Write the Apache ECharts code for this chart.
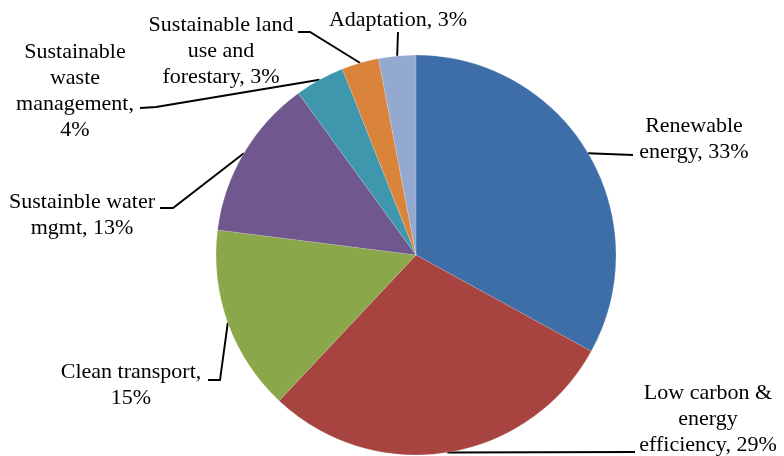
<!DOCTYPE html>
<html>
<head>
<meta charset="utf-8">
<title>Green bond use of proceeds</title>
<script src="https://cdn.jsdelivr.net/npm/echarts@6/dist/echarts.min.js"></script>
<style>
  html, body { margin: 0; padding: 0; background: #ffffff; }
  #chart { width: 784px; height: 456px; }
</style>
</head>
<body>
<div id="chart"></div>
<script>
// Categories (clockwise from 12 o'clock) and their shares in percent
const categories = [
  'Renewable energy',
  'Low carbon & energy efficiency',
  'Clean transport',
  'Sustainble water mgmt',
  'Sustainable waste management',
  'Sustainable land use and forestary',
  'Adaptation'
];
const shares = [33, 29, 15, 13, 4, 3, 3];

// Label text with its line breaks; {v} is replaced by the share
const labelTemplates = [
  'Renewable\nenergy, {v}%',
  'Low carbon &\nenergy\nefficiency, {v}%',
  'Clean transport,\n{v}%',
  'Sustainble water\nmgmt, {v}%',
  'Sustainable\nwaste\nmanagement,\n{v}%',
  'Sustainable land\nuse and\nforestary, {v}%',
  'Adaptation, {v}%'
];

const sliceColors = ['#3E6EA7', '#A8443F', '#8AA74A', '#70588F', '#3F97AE', '#DA843B', '#93A9D0'];

// Where each label block sits and the bend/end points of its leader line
const labelPlacement = [
  { x: 694, y: 139, bends: [[633, 155]] },
  { x: 708, y: 419, bends: [[635, 452]] },
  { x: 131, y: 385, bends: [[220, 380], [208, 380]] },
  { x: 82,  y: 215, bends: [[173, 208], [160, 208]] },
  { x: 75,  y: 91,  bends: [[156, 107], [140, 108]] },
  { x: 221, y: 51,  bends: [[310, 32], [298, 32]] },
  { x: 398, y: 20,  bends: [[398, 32]] }
];

const chart = echarts.init(document.getElementById('chart'), null, { renderer: 'canvas' });

const cx = 416, cy = 255, radius = 200;

chart.setOption({
  animation: false,
  backgroundColor: '#ffffff',
  series: [{
    type: 'pie',
    center: [cx, cy],
    radius: [0, radius],
    startAngle: 90,
    clockwise: true,
    avoidLabelOverlap: false,
    data: categories.map((name, i) => ({
      name: name,
      value: shares[i],
      itemStyle: { color: sliceColors[i] }
    })),
    itemStyle: {
      borderColor: 'rgba(255,255,255,0.3)',
      borderWidth: 0.5
    },
    label: {
      show: true,
      position: 'outside',
      formatter: p => labelTemplates[p.dataIndex].replace('{v}', p.value),
      fontFamily: '"Liberation Serif", "Times New Roman", serif',
      fontSize: 22,
      lineHeight: 26,
      color: '#000000',
      align: 'center'
    },
    labelLine: {
      show: true,
      length: 20,
      length2: 10,
      smooth: false,
      lineStyle: { color: '#000000', width: 1.9 }
    },
    labelLayout: function (params) {
      const i = params.dataIndex;
      const place = labelPlacement[i];
      let start;
      if (params.labelLinePoints && params.labelLinePoints.length) {
        start = params.labelLinePoints[0].slice();
      } else {
        // middle of the slice's outer arc
        let before = 0;
        for (let k = 0; k < i; k++) before += shares[k];
        const total = shares.reduce((a, b) => a + b, 0);
        const ang = (before + shares[i] / 2) / total * Math.PI * 2;
        start = [cx + radius * Math.sin(ang), cy - radius * Math.cos(ang)];
      }
      return {
        x: place.x,
        y: place.y,
        align: 'center',
        verticalAlign: 'middle',
        labelLinePoints: [start].concat(place.bends)
      };
    }
  }]
});
</script>
</body>
</html>
